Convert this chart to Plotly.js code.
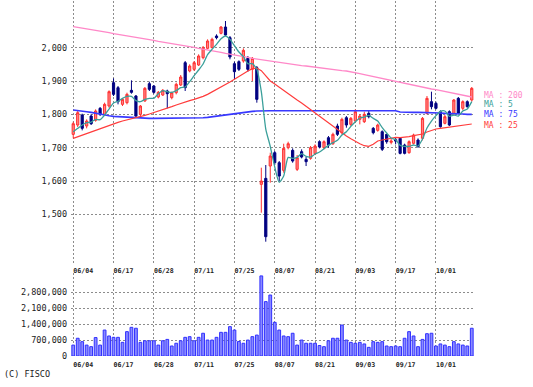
<!DOCTYPE html>
<html><head><meta charset="utf-8">
<script src="https://cdn.plot.ly/plotly-3.0.1.min.js"></script>
<style>html,body{margin:0;padding:0;background:#fff}#chart{width:533px;height:387px}</style>
</head><body><div id="chart"></div>
<script>
const dates = ['06/04','06/05','06/06','06/07','06/10','06/11','06/12','06/13','06/14','06/17','06/18','06/19','06/20','06/21','06/24','06/25','06/26','06/27','06/28',
'07/01','07/02','07/03','07/04','07/05','07/08','07/09','07/10','07/11','07/12','07/16','07/17','07/18','07/19','07/22','07/23','07/24','07/25','07/26','07/29','07/30','07/31',
'08/01','08/02','08/05','08/06','08/07','08/08','08/09','08/13','08/14','08/15','08/16','08/19','08/20','08/21','08/22','08/23','08/26','08/27','08/28','08/29','08/30',
'09/02','09/03','09/04','09/05','09/06','09/09','09/10','09/11','09/12','09/13','09/17','09/18','09/19','09/20','09/24','09/25','09/26','09/27','09/30',
'10/01','10/02','10/03','10/04','10/07','10/08','10/09','10/10','10/11'];
const tickDates = ['06/04','06/17','06/28','07/11','07/25','08/07','08/21','09/03','09/17','10/01'];

const open = [1740,1768,1798,1765,1795,1782,1818,1800,1825,1895, 1880,1830,1835,1872,1855,1800,1840,1892,1885,1852,
 1858,1870,1850,1865,1888,1955,1930,1935,1948,1970, 1998,2000,2035,2043,2062,2030,1952,1958,1960,1968,
 1935,1940,1590,1608,1645,1685,1655,1632,1700,1692, 1635,1688,1665,1668,1682,1718,1700,1730,1712,1765,
 1745,1790,1770,1780,1785,1778,1803,1758,1752,1748, 1740,1716,1724,1728,1708,1685,1713,1723,1728,1803,
 1838,1833,1808,1773,1808,1803,1848,1818,1838,1843];
const high = [1778,1812,1802,1785,1800,1815,1822,1835,1872,1908, 1885,1848,1865,1902,1858,1828,1882,1898,1888,1870,
 1876,1874,1868,1895,1918,1960,1950,1960,1980,2005, 2025,2030,2040,2065,2080,2035,1958,1962,1998,1975,
 1972,1945,1640,1648,1685,1690,1660,1712,1718,1698, 1678,1695,1672,1705,1710,1722,1722,1735,1745,1772,
 1790,1795,1792,1815,1800,1808,1810,1762,1772,1752, 1742,1726,1730,1732,1712,1722,1742,1728,1792,1855,
 1868,1838,1812,1798,1812,1846,1852,1842,1842,1882];
const low = [1728,1762,1752,1758,1768,1778,1795,1795,1820,1855, 1830,1825,1830,1862,1790,1795,1838,1870,1862,1848,
 1855,1818,1845,1860,1885,1870,1926,1930,1945,1965, 1995,1998,2025,2040,2035,1965,1905,1930,1955,1928,
 1900,1835,1505,1418,1595,1648,1600,1625,1695,1655, 1630,1668,1645,1664,1678,1698,1695,1700,1708,1735,
 1740,1760,1765,1775,1770,1774,1788,1740,1748,1690, 1712,1710,1710,1680,1680,1682,1710,1700,1722,1800,
 1815,1815,1760,1770,1765,1798,1800,1812,1820,1838];
const close = [1772,1805,1758,1780,1772,1810,1800,1830,1868,1860, 1838,1845,1860,1866,1795,1825,1878,1875,1866,1866,
 1872,1862,1865,1890,1912,1880,1945,1955,1975,2000, 2020,2025,2030,2062,2038,1972,1928,1935,1992,1935,
 1968,1845,1600,1433,1675,1655,1615,1698,1712,1660, 1670,1672,1658,1700,1705,1702,1718,1708,1740,1740,
 1785,1768,1788,1808,1795,1800,1793,1745,1768,1695, 1718,1720,1720,1683,1683,1718,1738,1703,1788,1848,
 1823,1818,1763,1793,1768,1843,1803,1838,1823,1878];

const ma5 = [1748,1758,1768,1775,1777,1785,1784,1798,1816,1834, 1839,1848,1854,1854,1841,1838,1845,1848,1848,1862,
 1871,1868,1866,1871,1880,1882,1898,1916,1933,1951, 1979,1995,2010,2027,2035,2025,2006,1987,1973,1952,
 1952,1935,1868,1756,1704,1642,1596,1615,1671,1668, 1671,1682,1674,1672,1681,1687,1697,1707,1715,1722,
 1738,1748,1764,1778,1789,1792,1797,1788,1780,1760, 1744,1729,1724,1707,1704,1704,1708,1705,1726,1759,
 1780,1796,1809,1810,1794,1798,1795,1810,1816,1838];
const ma25 = [1728,1733,1738,1743,1748,1753,1758,1763,1768,1773, 1776,1780,1783,1786,1790,1793,1797,1801,1805,1809,
 1813,1818,1823,1828,1833,1837,1841,1845,1849,1854, 1860,1867,1874,1881,1889,1897,1905,1914,1922,1930,
 1937,1939,1931,1917,1900,1891,1881,1872,1862,1853, 1843,1834,1824,1815,1805,1795,1784,1774,1763,1754,
 1744,1735,1727,1719,1712,1706,1704,1710,1720,1723, 1726,1730,1731,1730,1731,1733,1736,1738,1741,1747,
 1752,1756,1758,1760,1761,1764,1765,1767,1768,1771];
const ma75 = [1813,1812,1810,1808,1806,1803,1800,1798,1796,1794, 1793,1792,1791,1790,1789,1788,1788,1788,1788,1788,
 1788,1788,1788,1788,1788,1788,1788,1788,1789,1790, 1791,1793,1795,1797,1799,1801,1803,1805,1807,1808,
 1809,1810,1811,1811,1811,1811,1811,1811,1811,1811, 1811,1811,1811,1811,1811,1811,1811,1811,1811,1811,
 1811,1811,1811,1811,1811,1811,1811,1811,1811,1811, 1811,1811,1811,1807,1806,1806,1806,1806,1806,1806,
 1806,1805,1804,1803,1803,1802,1801,1801,1800,1800];
const ma200 = [2063,2061,2058,2056,2054,2052,2049,2047,2045,2042, 2040,2038,2036,2033,2031,2029,2026,2024,2022,2019,
 2017,2015,2013,2010,2008,2006,2003,2001,1998,1996, 1993,1991,1988,1986,1983,1981,1978,1976,1973,1971,
 1968,1966,1963,1961,1958,1956,1955,1953,1951,1950, 1948,1946,1945,1943,1941,1940,1938,1936,1935,1933,
 1931,1930,1928,1925,1922,1919,1916,1913,1910,1907, 1904,1901,1898,1895,1893,1890,1887,1884,1882,1879,
 1876,1874,1871,1868,1866,1863,1860,1857,1855,1852];
const volume = [480000,780000,630000,480000,410000,810000,480000,1140000,880000,820000,
 820000,600000,1070000,1260000,1220000,600000,670000,670000,670000,480000,
 670000,730000,440000,560000,670000,820000,850000,670000,820000,1000000,
 700000,700000,820000,1040000,1040000,1290000,1140000,640000,560000,700000,
 850000,920000,3520000,2390000,2680000,1480000,1140000,880000,850000,1000000,
 480000,700000,560000,560000,560000,460000,410000,670000,780000,780000,
 1360000,700000,600000,560000,600000,530000,380000,630000,600000,630000,
 440000,410000,440000,410000,780000,1070000,880000,410000,730000,980000,
 1000000,440000,530000,480000,410000,630000,530000,480000,440000,1220000];

const priceTicks = [1500,1600,1700,1800,1900,2000];
const volTicks = [0,700000,1400000,2100000,2800000];
const maNames = ['MA : 200','MA : 5','MA : 75','MA : 25'];
const maLabelY = [1857,1830,1801,1768];

const C = {ma200:'#ff88c8', ma5:'#3a9f9a', ma75:'#3838ff', ma25:'#ff3c3c'};
const maColors = [C.ma200, C.ma5, C.ma75, C.ma25];
const F = 'DejaVu Sans Mono';

const traces = [
 {type:'candlestick', x:dates, open:open, high:high, low:low, close:close, xaxis:'x', yaxis:'y',
  increasing:{line:{color:'#ff3030',width:1}, fillcolor:'#ff8484'},
  decreasing:{line:{color:'#000080',width:1}, fillcolor:'#000080'},
  whiskerwidth:0, hoverinfo:'skip', showlegend:false},
 {type:'scatter', mode:'lines', x:dates, y:ma200, line:{color:C.ma200,width:1.3}, xaxis:'x', yaxis:'y', hoverinfo:'skip'},
 {type:'scatter', mode:'lines', x:dates, y:ma75, line:{color:C.ma75,width:1.6}, xaxis:'x', yaxis:'y', hoverinfo:'skip'},
 {type:'scatter', mode:'lines', x:dates, y:ma25, line:{color:C.ma25,width:1.2}, xaxis:'x', yaxis:'y', hoverinfo:'skip'},
 {type:'scatter', mode:'lines', x:dates, y:ma5, line:{color:C.ma5,width:1.3,shape:'spline',smoothing:0.6}, xaxis:'x', yaxis:'y', hoverinfo:'skip'},
 {type:'bar', x:dates, y:volume, xaxis:'x2', yaxis:'y2', width:0.62,
  marker:{color:'#8a8aff', line:{color:'#3030ff',width:1}}, hoverinfo:'skip'}
];

const grid = {showgrid:true, gridcolor:'#8c8c8c', griddash:'2px,2px', gridwidth:1,
  zeroline:false, showline:false, ticks:'', fixedrange:true};
const xcommon = Object.assign({}, grid, {type:'category', range:[-0.5,89.5], tickmode:'array',
  tickvals:tickDates, ticktext:tickDates, ticklabelshift:10, ticklabelstandoff:3,
  tickfont:{family:F,size:6.6,color:'#222',weight:'bold'}, rangeslider:{visible:false}});

const annotations = maNames.map((t,i)=>({text:t, xref:'paper', x:1.0225, xanchor:'left',
  yref:'y', y:maLabelY[i], yanchor:'middle', showarrow:false, borderpad:0,
  font:{family:F,size:8,color:maColors[i]}}));
annotations.push({text:'(C) FISCO', xref:'paper', x:-0.171, xanchor:'left', yref:'paper', y:-0.052,
  yanchor:'middle', showarrow:false, font:{family:F,size:8.5,color:'#222'}});

const layout = {
 width:533, height:387, margin:{l:71,r:59,t:1,b:31,pad:0},
 paper_bgcolor:'#fff', plot_bgcolor:'#fff', showlegend:false,
 xaxis:Object.assign({}, xcommon, {anchor:'y'}),
 xaxis2:Object.assign({}, xcommon, {anchor:'y2', matches:'x'}),
 yaxis:Object.assign({}, grid, {domain:[0.2628,1], range:[1355,2140], tickmode:'array', tickvals:priceTicks,
   tickformat:',', ticklabelstandoff:3, tickfont:{family:F,size:8.5,color:'#222'}}),
 yaxis2:Object.assign({}, grid, {domain:[0,0.2338], range:[0,3648000], tickmode:'array', tickvals:volTicks,
   tickformat:',', ticklabelstandoff:3, tickfont:{family:F,size:8.5,color:'#222'}}),
 annotations:annotations,
 boxgap:0.3
};
Plotly.newPlot('chart', traces, layout, {staticPlot:true, displayModeBar:false});
</script></body></html>
